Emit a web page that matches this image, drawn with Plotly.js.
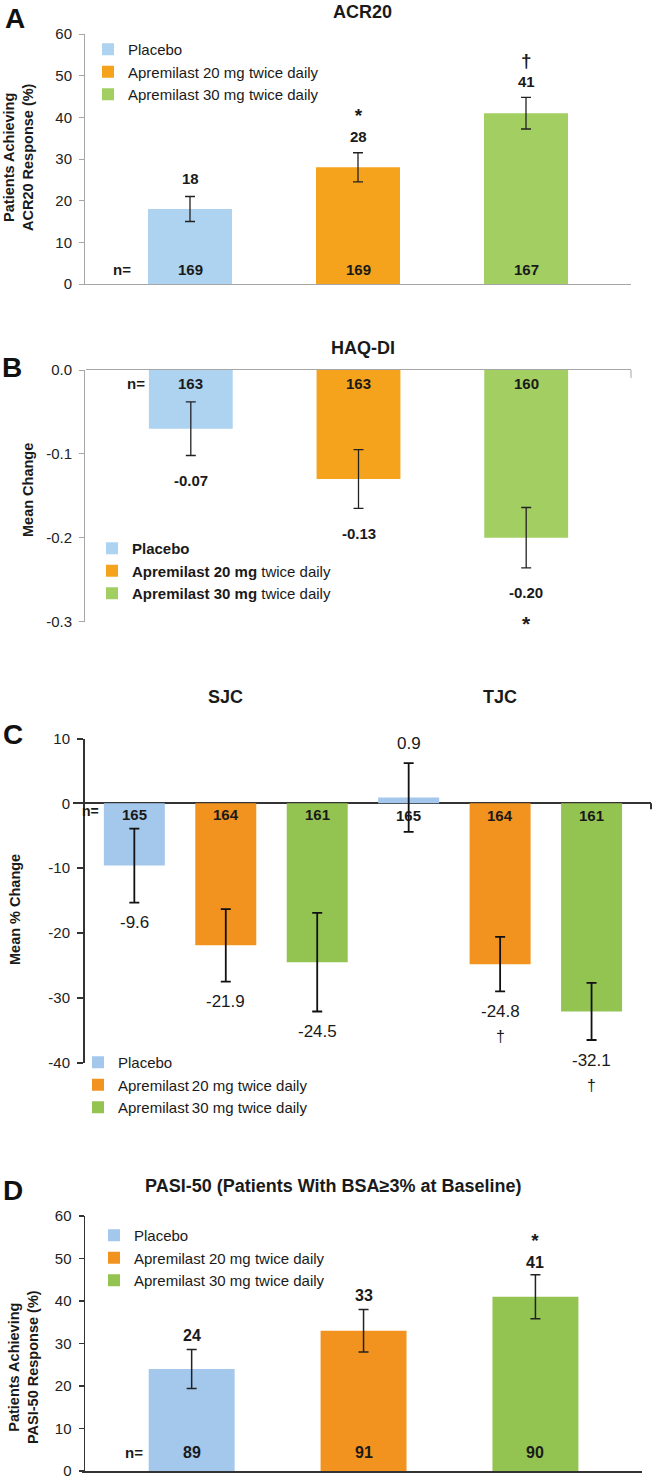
<!DOCTYPE html>
<html>
<head>
<meta charset="utf-8">
<script src="https://cdn.plot.ly/plotly-3.0.1.min.js"></script>
<style>
html,body{margin:0;padding:0;background:#fff;}
#chart{width:656px;height:1481px;}
</style>
</head>
<body>
<div id="chart"></div>
<script>
// ---------------- DATA ----------------
const groupNames = ["Placebo", "Apremilast 20 mg twice daily", "Apremilast 30 mg twice daily"];
const groupNamesB = ["<b>Placebo</b>", "<b>Apremilast 20 mg</b> twice daily", "<b>Apremilast 30 mg</b> twice daily"];
const groupNamesC = ["Placebo", "Apremilast\u200920 mg twice daily", "Apremilast\u200930 mg twice daily"];

// A: ACR20
const acrValues = [18, 28, 41];
const acrErr = [3.0, 3.5, 3.8];
const acrN = [169, 169, 167];
const acrSig = ["", "*", "\u2020"];

// B: HAQ-DI
const haqValues = [-0.07, -0.13, -0.20];
const haqErr = [0.032, 0.035, 0.036];
const haqN = [163, 163, 160];
const haqSig = ["", "", "*"];

// C: SJC / TJC
const jointCategories = ["SJC", "TJC"];
const sjcValues = [-9.6, -21.9, -24.5];
const sjcErr = [5.7, 5.6, 7.6];
const sjcN = [165, 164, 161];
const sjcSig = ["", "", ""];
const tjcValues = [0.9, -24.8, -32.1];
const tjcErr = [5.3, 4.2, 4.4];
const tjcN = [165, 164, 161];
const tjcSig = ["", "\u2020", "\u2020"];

// D: PASI-50
const pasiValues = [24, 33, 41];
const pasiErr = [4.6, 5.0, 5.2];
const pasiN = [89, 91, 90];
const pasiSig = ["", "", "*"];

// tick labels
const tickA = [0, 10, 20, 30, 40, 50, 60];
const tickB = [-0.3, -0.2, -0.1, 0.0];
const tickBText = ["-0.3", "-0.2", "-0.1", "0.0"];
const tickC = [-40, -30, -20, -10, 0, 10];
const tickCText = ["-40", "-30", "-20", "-10", "0", "10"];
const tickD = [0, 10, 20, 30, 40, 50, 60];

// ---------------- STYLE ----------------
const W = 656, H = 1481;
const FONT = "Liberation Sans, Arial, Helvetica, sans-serif";
const TXT = "#1a1a1a";
const colorsAB = ["#aed3f0", "#f5a31d", "#a2ce62"];
const colorsCD = ["#a4c8ec", "#f2921f", "#93c451"];
const px = p => p / W;
const py = p => 1 - p / H;

const traces = [];
function addBars(xref, yref, legendId, names, colors, xsPerSeries, ysPerSeries, errPerSeries, width, errStyle) {
  for (let s = 0; s < 3; s++) {
    traces.push({
      type: "bar",
      x: xsPerSeries[s], y: ysPerSeries[s],
      width: width,
      name: names[s],
      legend: legendId,
      legendgroup: legendId + "_" + s,
      marker: {color: colors[s], line: {width: 0}},
      error_y: {type: "data", array: errPerSeries[s], visible: true, color: errStyle.color, thickness: errStyle.thickness, width: errStyle.width},
      xaxis: xref, yaxis: yref,
      hoverinfo: "skip", cliponaxis: false
    });
  }
}

// A
addBars("x", "y", "legend", groupNames, colorsAB,
  [[0], [1], [2]], acrValues.map(v => [v]), acrErr.map(e => [e]), 0.5,
  {color: "#222", thickness: 1.3, width: 5});
// B
addBars("x2", "y2", "legend2", groupNamesB, colorsAB,
  [[0], [1], [2]], haqValues.map(v => [v]), haqErr.map(e => [e]), 0.5,
  {color: "#222", thickness: 1.3, width: 5});
// C
addBars("x3", "y3", "legend3", groupNamesC, colorsCD,
  [[0, 3], [1, 4], [2, 5]],
  [0, 1, 2].map(s => [sjcValues[s], tjcValues[s]]),
  [0, 1, 2].map(s => [sjcErr[s], tjcErr[s]]), 0.667,
  {color: "#111", thickness: 1.8, width: 5});
// D
addBars("x4", "y4", "legend4", groupNames, colorsCD,
  [[0], [1], [2]], pasiValues.map(v => [v]), pasiErr.map(e => [e]), 0.5,
  {color: "#222", thickness: 1.5, width: 5});

// ---------------- ANNOTATIONS ----------------
const ann = [];
function txt(o) {
  return Object.assign({showarrow: false, xanchor: "center", yanchor: "middle",
    font: {family: FONT, size: 15, color: TXT}}, o);
}
// opts: mode, dNum, dSig, numFont, sigFont, sigSize, combine, sigBold
function valueLabels(xref, yref, xs, vals, errs, sigs, fmt, o) {
  vals.forEach((v, i) => {
    const up = o.mode === "above" || (o.mode === "sign" && v >= 0);
    const yb = up ? v + errs[i] : v - errs[i];
    let sigTxt = sigs[i] ? "<span style='font-size:" + o.sigSize + "px'>" + sigs[i] + "</span>" : "";
    if (sigs[i] && o.sigBold) sigTxt = "<b>" + sigTxt + "</b>";
    if (sigs[i] && o.combine) {
      const half = o.numFont.size * 1.3 / 2;
      const text = up ? sigTxt + "<br>" + fmt(v) : fmt(v) + "<br>" + sigTxt;
      ann.push(txt({xref, yref, x: xs[i], y: yb, yshift: up ? o.dNum + half : -(o.dNum + half), text, font: o.numFont}));
    } else {
      ann.push(txt({xref, yref, x: xs[i], y: yb, yshift: up ? o.dNum : -o.dNum, text: fmt(v), font: o.numFont}));
      if (sigs[i]) ann.push(txt({xref, yref, x: xs[i], y: yb, yshift: up ? o.dSig : -o.dSig, text: sigTxt, font: o.sigFont}));
    }
  });
}
function nLabels(xref, yref, xs, ns, shift, font) {
  ns.forEach((n, i) => ann.push(txt({xref, yref, x: xs[i], y: 0, yshift: shift, text: "<b>" + n + "</b>", font})));
}
const bold15 = {family: FONT, size: 15, color: TXT};
const bold16 = {family: FONT, size: 16, color: TXT};
const reg17 = {family: FONT, size: 17, color: TXT};
const reg16 = {family: FONT, size: 16, color: TXT};

// A
valueLabels("x", "y", [0, 1, 2], acrValues, acrErr, acrSig, v => "<b>" + v + "</b>",
  {mode: "above", dNum: 18, numFont: bold15, sigSize: 19, combine: true, sigBold: true});
nLabels("x", "y", [0, 1, 2], acrN, 15, bold15);
ann.push(txt({xref: "paper", yref: "paper", x: px(122), y: py(269), text: "<b>n=</b>", font: bold15}));
// B
valueLabels("x2", "y2", [0, 1, 2], haqValues, haqErr, haqSig, v => "<b>" + v.toFixed(2) + "</b>",
  {mode: "below", dNum: 25, dSig: 56, numFont: bold15, sigFont: {family: FONT, size: 21, color: TXT}, sigSize: 21, combine: false, sigBold: true});
nLabels("x2", "y2", [0, 1, 2], haqN, -13, bold15);
ann.push(txt({xref: "paper", yref: "paper", x: px(136), y: py(383), text: "<b>n=</b>", font: bold15}));
// C
valueLabels("x3", "y3", [0, 1, 2], sjcValues, sjcErr, sjcSig, v => v.toFixed(1),
  {mode: "sign", dNum: 20, dSig: 45, numFont: reg17, sigFont: reg16, sigSize: 16, combine: false, sigBold: false});
valueLabels("x3", "y3", [3, 4, 5], tjcValues, tjcErr, tjcSig, v => v.toFixed(1),
  {mode: "sign", dNum: 20, dSig: 45, numFont: reg17, sigFont: reg16, sigSize: 16, combine: false, sigBold: false});
nLabels("x3", "y3", [0, 1, 2], sjcN, -11, bold15);
nLabels("x3", "y3", [3, 4, 5], tjcN, -12, bold15);
ann.push(txt({xref: "paper", yref: "paper", x: px(90), y: py(811), text: "<b>n=</b>", font: {family: FONT, size: 14, color: TXT}}));
jointCategories.forEach((c, i) => ann.push(txt({xref: "x3", yref: "paper", x: 1 + 3 * i, y: py(697), text: "<b>" + c + "</b>", font: {family: FONT, size: 18, color: TXT}})));
// D
valueLabels("x4", "y4", [0, 1, 2], pasiValues, pasiErr, pasiSig, v => "<b>" + v + "</b>",
  {mode: "above", dNum: 14, numFont: bold16, sigSize: 19, combine: true, sigBold: true});
nLabels("x4", "y4", [0, 1, 2], pasiN, 19, bold16);
ann.push(txt({xref: "paper", yref: "paper", x: px(134), y: py(1452), text: "<b>n=</b>", font: bold15}));

// titles
ann.push(txt({xref: "paper", yref: "paper", x: px(362), y: py(12), text: "<b>ACR20</b>", font: {family: FONT, size: 18, color: TXT}}));
ann.push(txt({xref: "paper", yref: "paper", x: px(363), y: py(348), text: "<b>HAQ-DI</b>", font: {family: FONT, size: 18, color: TXT}}));
ann.push(txt({xref: "paper", yref: "paper", x: px(333), y: py(1186), text: "<b>PASI-50 (Patients With BSA\u22653% at Baseline)</b>", font: {family: FONT, size: 18, color: TXT}}));
// panel letters
[["A", 14.5, 18.5], ["B", 12, 367], ["C", 13, 734], ["D", 13, 1190]].forEach(([t, x, y]) =>
  ann.push(txt({xref: "paper", yref: "paper", x: px(x), y: py(y), text: "<b>" + t + "</b>", font: {family: FONT, size: 28, color: "#111"}})));
// y titles
ann.push(txt({xref: "paper", yref: "paper", x: px(18), y: py(157), textangle: -90, text: "<b>Patients Achieving<br>ACR20 Response (%)</b>", font: {family: FONT, size: 14.5, color: TXT}}));
ann.push(txt({xref: "paper", yref: "paper", x: px(28), y: py(490), textangle: -90, text: "<b>Mean Change</b>", font: {family: FONT, size: 14.5, color: TXT}}));
ann.push(txt({xref: "paper", yref: "paper", x: px(15), y: py(910), textangle: -90, text: "<b>Mean % Change</b>", font: {family: FONT, size: 14.5, color: TXT}}));
ann.push(txt({xref: "paper", yref: "paper", x: px(23), y: py(1367), textangle: -90, text: "<b>Patients Achieving<br>PASI-50 Response (%)</b>", font: {family: FONT, size: 14.5, color: TXT}}));

// end ticks on category axes
const shapes = [];
function endTick(xref, yref, xd, color, w, len) {
  shapes.push({type: "line", xref: xref + " domain", yref: yref, x0: xd, x1: xd, y0: 0, y1: -len,
    ysizemode: "pixel", yanchor: 0, line: {color, width: w}});
}
endTick("x", "y", 1, "#a6a6a6", 1, 7);
endTick("x", "y", 0, "#a6a6a6", 1, 7);
endTick("x2", "y2", 1, "#a6a6a6", 1, 8);
endTick("x3", "y3", 1, "#333", 2, 6);
endTick("x4", "y4", 1, "#333", 1.5, 8);
endTick("x4", "y4", 0, "#333", 1.5, 8);

// ---------------- LAYOUT ----------------
const tickFont = {family: FONT, size: 15, color: "#222"};
function yax(domain, range, tv, tt, color, lw) {
  return {domain, range, tickvals: tv, ticktext: tt, ticks: "outside", ticklen: 5, tickcolor: color, tickwidth: lw,
    showline: true, linecolor: color, linewidth: lw, showgrid: false, zeroline: false, tickfont: tickFont,
    ticklabelstandoff: 4, fixedrange: true};
}
function xax(domain, range, anchor, showline, color, lw, side) {
  return {domain, range, anchor, showline, linecolor: color, linewidth: lw, side: side || "bottom",
    showticklabels: false, ticks: "", showgrid: false, zeroline: false, fixedrange: true};
}
function leg(x, y, size, gap) {
  return {x: px(x), y: py(y), xanchor: "left", yanchor: "top", bgcolor: "rgba(0,0,0,0)",
    font: {family: FONT, size: size, color: TXT}, tracegroupgap: gap, traceorder: "normal", itemclick: false, itemdoubleclick: false};
}

const layout = {
  width: W, height: H,
  margin: {l: 0, r: 0, t: 0, b: 0},
  paper_bgcolor: "#fff", plot_bgcolor: "rgba(0,0,0,0)",
  barmode: "overlay",
  showlegend: true,
  font: {family: FONT, color: TXT},
  xaxis: xax([px(85), px(631)], [-0.625, 2.625], "y", true, "#a6a6a6", 1),
  yaxis: yax([py(284), py(34)], [0, 60], tickA, tickA.map(String), "#a6a6a6", 1),
  xaxis2: xax([px(86), px(631)], [-0.625, 2.625], "y2", true, "#a6a6a6", 1, "top"),
  yaxis2: yax([py(621.5), py(370)], [-0.3, 0], tickB, tickBText, "#a6a6a6", 1),
  xaxis3: xax([px(72.7), px(651)], [-0.674, 5.65], "y3", false, "#333", 2),
  yaxis3: Object.assign(yax([py(1062.7), py(738.5)], [-40, 10], tickC, tickCText, "#333", 2), {zeroline: true, zerolinecolor: "#333", zerolinewidth: 2, ticklen: 6}),
  xaxis4: xax([px(82), px(642)], [-0.638, 2.62], "y4", true, "#333", 1.5),
  yaxis4: yax([py(1471), py(1216)], [0, 60], tickD, tickD.map(String), "#333", 1.5),
  legend: leg(88, 33, 15, 4),
  legend2: leg(92, 532, 15, 4),
  legend3: leg(78, 1046, 15, 4),
  legend4: leg(94, 1219, 15, 4),
  annotations: ann,
  shapes: shapes
};

Plotly.newPlot("chart", traces, layout, {displayModeBar: false, staticPlot: true});
</script>
</body>
</html>
